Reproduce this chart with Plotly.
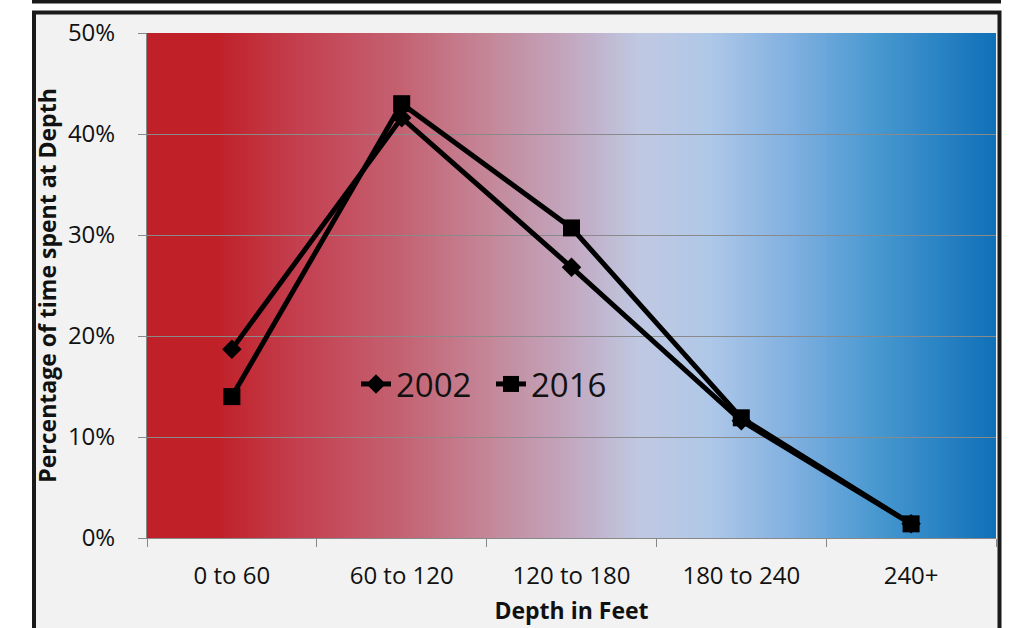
import plotly.graph_objects as go

categories = ["0 to 60", "60 to 120", "120 to 180", "180 to 240", "240+"]
series_2002 = [18.7, 41.6, 26.8, 11.6, 1.4]
series_2016 = [14.0, 43.0, 30.7, 11.9, 1.4]
y_ticks = [0, 10, 20, 30, 40, 50]
y_tick_labels = ["0%", "10%", "20%", "30%", "40%", "50%"]

W, H = 1014, 628
L, R, T, B = 147, 996, 33, 538


def px_x(p):
    return (p - L) / (R - L)


def px_y(p):
    return (B - p) / (B - T)


fig = go.Figure()
fig.add_trace(go.Scatter(
    x=categories, y=series_2002, name="2002", mode="lines+markers",
    line=dict(color="black", width=5),
    marker=dict(symbol="diamond", size=15, color="black"),
))
fig.add_trace(go.Scatter(
    x=categories, y=series_2016, name="2016", mode="lines+markers",
    line=dict(color="black", width=5),
    marker=dict(symbol="square", size=17, color="black"),
))

shapes = []
# page frame
shapes.append(dict(type="rect", xref="paper", yref="paper",
                   x0=px_x(34), x1=px_x(999.5), y0=px_y(640), y1=px_y(12.5),
                   line=dict(color="#1a1a1a", width=4), fillcolor="#f2f2f2", layer="below"))
shapes.append(dict(type="line", xref="paper", yref="paper",
                   x0=px_x(32), x1=px_x(1001), y0=px_y(1.5), y1=px_y(1.5),
                   line=dict(color="#1a1a1a", width=4), layer="below"))

# gradient background
stops = [
    (0.00, (192, 32, 40)), (0.08, (192, 32, 40)), (0.18, (196, 64, 80)),
    (0.30, (196, 98, 114)), (0.40, (196, 134, 152)), (0.50, (194, 168, 192)),
    (0.58, (192, 200, 226)), (0.66, (176, 200, 232)), (0.76, (128, 176, 224)),
    (0.86, (72, 152, 208)), (1.00, (16, 112, 184)),
]


def col(f):
    for (a, ca), (b, cb) in zip(stops[:-1], stops[1:]):
        if a <= f <= b:
            t = (f - a) / (b - a) if b > a else 0
            c = [round(ca[i] + (cb[i] - ca[i]) * t) for i in range(3)]
            return "rgb(%d,%d,%d)" % tuple(c)
    return "rgb(%d,%d,%d)" % stops[-1][1]


N = 212
for i in range(N):
    f0, f1 = i / N, (i + 1) / N
    shapes.append(dict(type="rect", xref="paper", yref="paper",
                       x0=f0, x1=min(1, f1 + 0.002), y0=0, y1=1,
                       line=dict(width=0), fillcolor=col((f0 + f1) / 2), layer="below"))

font = "Open Sans, Noto Sans, sans-serif"
fig.update_layout(
    width=W, height=H,
    margin=dict(l=L, r=W - R, t=T, b=H - B),
    paper_bgcolor="white", plot_bgcolor="rgba(0,0,0,0)",
    shapes=shapes,
    font=dict(family=font, color="#111"),
    showlegend=True,
    legend=dict(orientation="h", x=px_x(356), y=px_y(384), xanchor="left", yanchor="middle",
                bgcolor="rgba(0,0,0,0)", font=dict(size=33, color="#111"),
                itemwidth=30, tracegroupgap=0, entrywidth=90),
    xaxis=dict(type="category", tickson="boundaries", ticks="outside", ticklen=8,
               tickcolor="#888", showline=True, linecolor="#888", linewidth=1,
               showgrid=False, tickfont=dict(size=24), ticklabelstandoff=16,
               title=dict(text="<b>Depth in Feet</b>", font=dict(size=23), standoff=13),
               range=[-0.5, 4.5], automargin=False),
    yaxis=dict(range=[0, 50], tickvals=y_ticks, ticktext=y_tick_labels,
               ticks="outside", ticklen=8, tickcolor="#888",
               showline=True, linecolor="#888", linewidth=1,
               showgrid=True, gridcolor="#8a8a8a", gridwidth=1, zeroline=False,
               tickfont=dict(size=24), ticklabelstandoff=18, automargin=False,
               title=dict(text="<b>Percentage of time spent at Depth</b>", font=dict(size=23), standoff=4)),
)

fig.write_html("out.html", config={"displayModeBar": False},
               post_script="document.body.style.margin='0';")
